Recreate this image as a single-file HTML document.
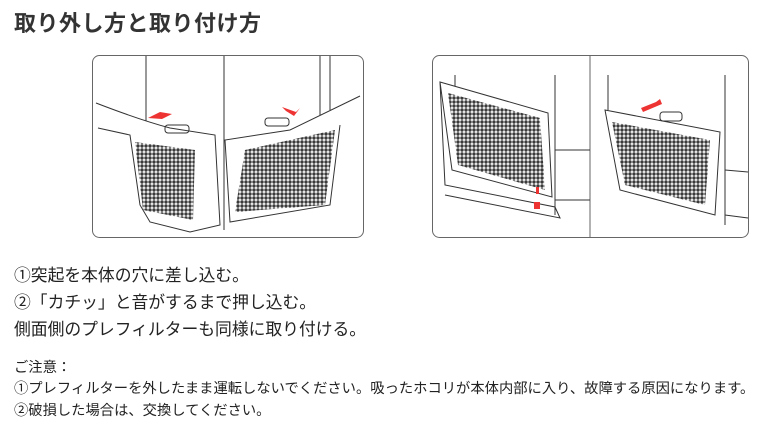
<!DOCTYPE html><html><head><meta charset="utf-8"><style>
body{margin:0;width:780px;height:438px;background:#fff;position:relative;overflow:hidden;font-family:"Liberation Sans","Noto Sans CJK JP",sans-serif;color:#222}
.t{position:absolute;white-space:nowrap}
</style></head><body>
<div class="t" style="left:14px;top:6px;font-size:22px;font-weight:bold;color:#333;letter-spacing:0.5px">取り外し方と取り付け方</div>
<svg style="position:absolute;left:0;top:0" width="780" height="260">
<defs><pattern id="m" width="4" height="4" patternUnits="userSpaceOnUse"><rect width="4" height="4" fill="#fff"/><circle cx="2" cy="2" r="1.7" fill="#3a3a3a"/></pattern></defs>
<g fill="none" stroke="#333" stroke-width="1">
<rect x="92.5" y="55.5" width="271" height="182" rx="7" stroke="#666"/>
<rect x="432.5" y="55.5" width="316" height="182" rx="7" stroke="#666"/>
<line x1="590" y1="56" x2="590" y2="237" stroke="#666"/>
<line x1="146" y1="56" x2="146" y2="125"/><line x1="224" y1="56" x2="224" y2="230"/><line x1="320" y1="56" x2="320" y2="115"/><line x1="330" y1="56" x2="330" y2="110"/>
<path d="M96 103 Q140 120 170 128 L215 135 L220 225 L190 232 L150 222 L140 205 L130 135 L98 128" fill="#fff"/>
<path d="M135 142 L195 150 L193 220 L143 210 Z" fill="url(#m)" stroke="none"/>
<path d="M360 96 Q300 125 290 130 L225 140 L230 222 L330 205 L340 125" fill="#fff"/>
<path d="M245 150 L335 130 L325 205 L235 212 Z" fill="url(#m)" stroke="none"/>
<rect x="165" y="125" width="24" height="8" rx="3"/><rect x="265" y="118" width="24" height="8" rx="3"/>
<line x1="455" y1="75" x2="455" y2="90"/><line x1="555" y1="75" x2="555" y2="215"/>
<path d="M440 82 L445 185 L555 207 L560 218 L445 195" />
<path d="M440 82 L548 113 L552 197 L452 170 Z" fill="#fff"/>
<path d="M448 93 L540 118 L545 190 L458 165 Z" fill="url(#m)" stroke="none"/>
<path d="M555 150 L590 150" /><path d="M555 200 L590 200"/>
<line x1="608" y1="75" x2="608" y2="110"/><line x1="725" y1="75" x2="725" y2="225"/>
<path d="M725 170 L748 172"/><path d="M725 215 L748 218"/>
<path d="M605 110 L720 132 L715 215 L620 190 Z" fill="#fff"/>
<path d="M612 122 L710 140 L705 205 L625 185 Z" fill="url(#m)" stroke="none"/>
<rect x="660" y="112" width="22" height="9" rx="3"/>
</g>
<g fill="#e33"><polygon points="148,118 160,112 172,114 162,119"/><polygon points="282,107 296,112 300,108 294,116 286,111"/><polygon points="641,108 656,102 660,99 662,104 643,112"/><rect x="536" y="187" width="3" height="7"/><rect x="534" y="202" width="6" height="7"/></g>
</svg>
<div class="t" style="left:14px;top:262px;font-size:16.8px">①突起を本体の穴に差し込む。</div>
<div class="t" style="left:14px;top:289px;font-size:16.8px">②「カチッ」と音がするまで押し込む。</div>
<div class="t" style="left:14px;top:316px;font-size:16.8px">側面側のプレフィルターも同様に取り付ける。</div>
<div class="t" style="left:14px;top:356px;font-size:14.3px">ご注意：</div>
<div class="t" style="left:14px;top:377px;font-size:14.3px">①プレフィルターを外したまま運転しないでください。吸ったホコリが本体内部に入り、故障する原因になります。</div>
<div class="t" style="left:14px;top:399px;font-size:14.3px">②破損した場合は、交換してください。</div>
</body></html>
